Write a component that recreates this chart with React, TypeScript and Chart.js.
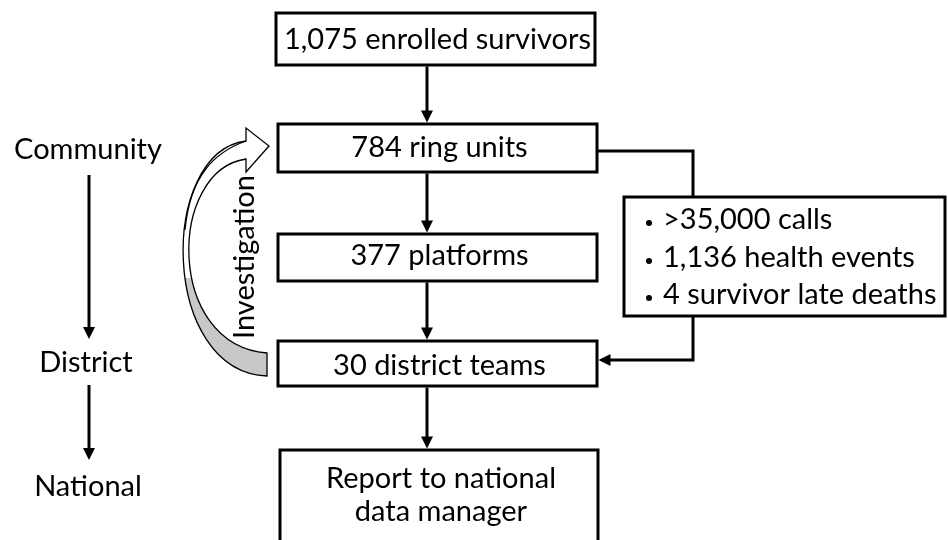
import React, { useEffect, useRef } from "react";
import { Chart, registerables } from "chart.js";

Chart.register(...registerables);

// ---- content ----
const nodeLabels: string[] = [
  "1,075 enrolled survivors",
  "784 ring units",
  "377 platforms",
  "30 district teams",
  "Report to national\ndata manager",
];
const levelLabels: string[] = ["Community", "District", "National"];
const sideItems: string[] = [">35,000 calls", "1,136 health events", "4 survivor late deaths"];
const loopLabel = "Investigation";

// ---- layout (diagram coordinates, in scale units) ----
const nodeBoxes: number[][] = [
  [276, 13, 595, 65],
  [278, 124, 597, 172],
  [278, 234, 597, 281],
  [278, 341, 597, 386],
  [280, 450, 598, 548],
];
const nodeTextY: number[][] = [[40], [148], [256], [366], [479, 512]];
const levelPos: number[][] = [[88, 150], [86, 363], [88, 487]];
const levelArrows: number[][] = [[89, 175, 339], [89, 385, 460]];
const sideBox = [624, 197, 945, 316];
const sideTextY = [220, 258, 295];

const FONT = "Lato, 'Open Sans', sans-serif";
const FSIZE = 29;

const flowPlugin = {
  id: "flow",
  afterDraw(chart: any) {
    const ctx = chart.ctx as CanvasRenderingContext2D;
    const xs = chart.scales.x;
    const ys = chart.scales.y;
    const X = (v: number) => xs.getPixelForValue(v);
    const Y = (v: number) => ys.getPixelForValue(v);
    ctx.save();
    ctx.fillStyle = "#fff";
    ctx.fillRect(0, 0, chart.width, chart.height);
    ctx.strokeStyle = "#000";
    ctx.fillStyle = "#000";
    ctx.lineWidth = 3;
    ctx.lineJoin = "miter";

    const arrowHead = (x: number, y: number, dir: string) => {
      const L = 12, W = 6;
      ctx.beginPath();
      if (dir === "down") {
        ctx.moveTo(x, y); ctx.lineTo(x - W, y - L); ctx.lineTo(x + W, y - L);
      } else if (dir === "left") {
        ctx.moveTo(x, y); ctx.lineTo(x + L, y - W); ctx.lineTo(x + L, y + W);
      }
      ctx.closePath();
      ctx.fill();
    };
    const vArrow = (x: number, y1: number, y2: number) => {
      ctx.beginPath();
      ctx.moveTo(X(x), Y(y1));
      ctx.lineTo(X(x), Y(y2) - 8);
      ctx.stroke();
      arrowHead(X(x), Y(y2), "down");
    };

    // boxes
    nodeBoxes.forEach((b) => {
      ctx.strokeRect(X(b[0]), Y(b[1]), X(b[2]) - X(b[0]), Y(b[3]) - Y(b[1]));
    });
    // vertical arrows between boxes
    for (let i = 0; i < nodeBoxes.length - 1; i++) {
      const cx = 427;
      vArrow(cx, nodeBoxes[i][3] + 1.5, nodeBoxes[i + 1][1] - 1.5);
    }
    // side box
    ctx.strokeRect(X(sideBox[0]), Y(sideBox[1]), X(sideBox[2]) - X(sideBox[0]), Y(sideBox[3]) - Y(sideBox[1]));
    // connectors
    ctx.beginPath();
    ctx.moveTo(X(nodeBoxes[1][2]), Y(151));
    ctx.lineTo(X(693), Y(151));
    ctx.lineTo(X(693), Y(sideBox[1]));
    ctx.stroke();
    ctx.beginPath();
    ctx.moveTo(X(693), Y(sideBox[3]));
    ctx.lineTo(X(693), Y(360));
    ctx.lineTo(X(nodeBoxes[3][2]) + 8, Y(360));
    ctx.stroke();
    arrowHead(X(nodeBoxes[3][2]) + 1.5, Y(360), "left");

    // left level arrows
    levelArrows.forEach((a) => vArrow(a[0], a[1], a[2]));

    // text
    ctx.fillStyle = "#000";
    ctx.textAlign = "center";
    ctx.textBaseline = "middle";
    ctx.font = `${FSIZE}px ${FONT}`;
    nodeLabels.forEach((lab, i) => {
      const b = nodeBoxes[i];
      const cx = (X(b[0]) + X(b[2])) / 2 + 2;
      lab.split("\n").forEach((line, j) => ctx.fillText(line, cx, Y(nodeTextY[i][j])));
    });
    levelLabels.forEach((lab, i) => ctx.fillText(lab, X(levelPos[i][0]), Y(levelPos[i][1])));

    ctx.textAlign = "left";
    sideItems.forEach((it, i) => {
      ctx.beginPath();
      ctx.arc(X(649), Y(sideTextY[i]) + 3, 3, 0, Math.PI * 2);
      ctx.fill();
      ctx.fillText(it, X(663), Y(sideTextY[i]));
    });

    // curved block arrow (Investigation)
    ctx.lineWidth = 1.3;
    const band = () => {
      ctx.beginPath();
      ctx.moveTo(X(267), Y(376));
      ctx.bezierCurveTo(X(160), Y(372), X(158), Y(152), X(246), Y(141));
      ctx.lineTo(X(246), Y(128));
      ctx.lineTo(X(269), Y(146));
      ctx.lineTo(X(246), Y(172));
      ctx.lineTo(X(246), Y(159));
      ctx.bezierCurveTo(X(168), Y(170), X(165), Y(345), X(267), Y(353));
      ctx.closePath();
    };
    band();
    ctx.fillStyle = "#fff";
    ctx.fill();
    ctx.save();
    band();
    ctx.clip();
    ctx.fillStyle = "#c8c8c8";
    ctx.fillRect(X(150), Y(278), X(280) - X(150), Y(400) - Y(278));
    ctx.restore();
    band();
    ctx.strokeStyle = "#000";
    ctx.stroke();
    // twist line
    ctx.beginPath();
    ctx.moveTo(X(185), Y(230));
    ctx.bezierCurveTo(X(190), Y(175), X(215), Y(152), X(246), Y(141));
    ctx.stroke();

    ctx.save();
    ctx.translate(X(245), Y(257));
    ctx.rotate(-Math.PI / 2);
    ctx.textAlign = "center";
    ctx.textBaseline = "middle";
    ctx.fillStyle = "#000";
    ctx.font = `${FSIZE}px ${FONT}`;
    ctx.fillText(loopLabel, 0, 0);
    ctx.restore();

    ctx.restore();
  },
};

export default function App() {
  const ref = useRef<HTMLCanvasElement | null>(null);
  useEffect(() => {
    document.body.style.margin = "0";
    const canvas = ref.current!;
    const chart = new Chart(canvas, {
      type: "scatter",
      data: { datasets: [{ data: [], pointRadius: 0 }] },
      options: {
        animation: false,
        responsive: false,
        events: [],
        layout: { padding: 0 },
        plugins: { legend: { display: false }, tooltip: { enabled: false } },
        scales: {
          x: { type: "linear", min: 0, max: 948, display: false },
          y: { type: "linear", min: 0, max: 540, reverse: true, display: false },
        },
      },
      plugins: [flowPlugin],
    });
    return () => chart.destroy();
  }, []);
  return <canvas ref={ref} width={948} height={540} style={{ display: "block" }} />;
}
